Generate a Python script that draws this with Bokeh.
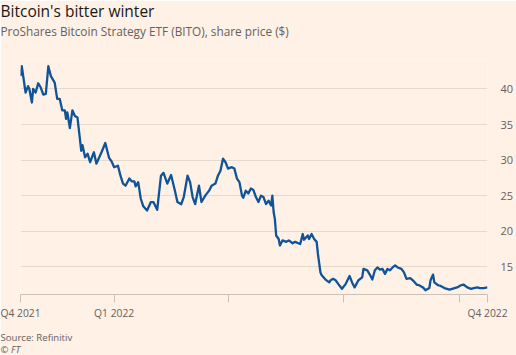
import pandas as pd
from bokeh.plotting import figure
from bokeh.models import FixedTicker, LinearAxis, Range1d, Title, ColumnDataSource
from bokeh.embed import file_html
from bokeh.resources import INLINE

# ---- data ----
launch_date = "2021-10-19"
days_since_launch = [0, 1, 4, 6, 7, 9, 10, 12, 14, 16, 18, 20, 22, 24, 27, 29, 31, 33, 35, 36,
                     37, 39, 41, 43, 45, 48, 49, 51, 53, 55, 58, 60, 64, 67, 70, 72, 74, 77, 79, 81,
                     83, 86, 88, 90, 91, 93, 95, 97, 100, 103, 105, 108, 111, 113, 116, 119, 122, 124, 127, 129,
                     132, 134, 136, 138, 141, 143, 146, 149, 151, 154, 156, 158, 160, 162, 164, 167, 169, 171, 173, 175,
                     176, 178, 180, 182, 184, 186, 188, 190, 192, 194, 196, 198, 199, 200, 201, 202, 204, 205, 207, 210,
                     212, 215, 217, 221, 223, 224, 227, 228, 230, 232, 234, 235, 237, 238, 241, 244, 245, 247, 249, 251,
                     254, 257, 260, 262, 264, 267, 270, 271, 274, 276, 278, 280, 282, 284, 286, 288, 290, 292, 294, 296,
                     298, 301, 303, 305, 308, 310, 313, 315, 318, 320, 323, 324, 326, 327, 330, 332, 335, 337, 339, 343,
                     345, 348, 350, 353, 356, 358, 361, 363, 366, 369]
share_price = [41.8, 43.2, 39.5, 40.4, 40.0, 38.1, 40.0, 39.5, 40.8, 40.2, 39.2, 39.3, 43.2, 41.8, 40.9, 38.6, 38.6, 37.0, 37.0, 35.8,
               36.7, 34.5, 37.0, 36.2, 36.0, 31.3, 32.1, 30.4, 30.9, 29.7, 31.1, 29.5, 31.1, 32.4, 30.3, 29.8, 29.0, 29.2, 27.8, 26.7,
               26.4, 27.4, 27.0, 27.0, 26.3, 26.9, 24.6, 23.5, 22.9, 24.1, 24.1, 23.0, 27.8, 28.2, 26.7, 27.9, 25.7, 24.1, 23.8, 24.8,
               27.8, 26.9, 24.8, 23.8, 26.4, 24.1, 25.0, 25.7, 26.4, 26.7, 27.8, 28.5, 30.2, 29.7, 28.8, 29.0, 28.8, 27.4, 26.9, 25.0,
               24.7, 25.7, 25.3, 26.0, 25.8, 24.8, 24.1, 25.0, 24.8, 23.8, 24.3, 23.6, 25.0, 22.7, 21.7, 19.4, 18.9, 18.0, 18.7, 18.5,
               18.7, 18.3, 18.5, 18.2, 19.6, 18.8, 19.4, 18.9, 19.6, 18.9, 18.5, 16.8, 14.2, 13.8, 13.2, 12.8, 13.1, 13.3, 13.1, 12.6,
               11.9, 12.6, 13.7, 12.8, 12.1, 13.1, 13.5, 14.7, 14.5, 13.9, 13.2, 14.5, 14.9, 14.6, 14.7, 14.0, 14.7, 14.5, 14.9, 15.2,
               14.9, 14.7, 14.2, 13.3, 13.4, 13.1, 12.5, 12.4, 12.1, 11.7, 12.0, 13.1, 13.9, 12.8, 12.4, 12.3, 12.0, 11.9, 11.8, 12.0,
               12.1, 12.4, 12.5, 12.1, 11.9, 12.0, 12.1, 12.0, 12.0, 12.1]
x_tick_dates = ["2021-10-19", "2022-01-01", "2022-04-01", "2022-07-01", "2022-10-01", "2022-10-23"]
x_tick_labels = ["Q4 2021", "Q1 2022", "", "", "", "Q4 2022"]
y_ticks = [15, 20, 25, 30, 35, 40]

title_text = "Bitcoin's bitter winter"
subtitle_text = "ProShares Bitcoin Strategy ETF (BITO), share price ($)"
source_text = "Source: Refinitiv"
credit_text = "\u00a9 FT"

BG = "#fff1e5"
LINE = "#0f5499"
TEXT = "#66605c"
GRID = "#e6d9ce"
AXIS = "#ccc1b7"
FONT = "Open Sans"

dates = pd.Timestamp(launch_date) + pd.to_timedelta(days_since_launch, unit="D")
src = ColumnDataSource(dict(date=dates, price=share_price))

tick_ms = [int(pd.Timestamp(d).value // 10**6) for d in x_tick_dates]
overrides = {t: lab for t, lab in zip(tick_ms, x_tick_labels)}

x0 = pd.Timestamp(x_tick_dates[0])
x1 = pd.Timestamp(x_tick_dates[-1])

p = figure(width=516, height=355, x_axis_type="datetime",
           x_range=Range1d(x0, x1), y_range=Range1d(11.1, 44.0),
           output_backend="svg", toolbar_location=None,
           min_border_left=20, min_border_right=24, min_border_top=60, min_border_bottom=61,
           background_fill_color=BG, border_fill_color=BG, outline_line_color=None,
           y_axis_location=None)

p.line("date", "price", source=src, line_color=LINE, line_width=2.3, line_join="round")

# x axis
xa = p.xaxis[0]
xa.ticker = FixedTicker(ticks=tick_ms)
xa.major_label_overrides = overrides
xa.axis_line_color = AXIS
xa.major_tick_line_color = AXIS
xa.major_tick_in = 0
xa.major_tick_out = 8
xa.minor_tick_line_color = None
xa.major_label_text_font = FONT
xa.major_label_text_font_size = "10.3px"
xa.major_label_text_color = TEXT
xa.major_label_standoff = 3

# y axis on right
ya = LinearAxis(ticker=FixedTicker(ticks=y_ticks))
ya.axis_line_color = None
ya.major_tick_line_color = None
ya.minor_tick_line_color = None
ya.major_label_text_font = FONT
ya.major_label_text_font_size = "11px"
ya.major_label_text_color = TEXT
ya.major_label_standoff = 7
p.add_layout(ya, "right")

p.xgrid.grid_line_color = None
p.ygrid.grid_line_color = GRID
p.ygrid.ticker = FixedTicker(ticks=y_ticks)
p.ygrid.grid_line_width = 1

def mk_title(txt, size, color, standoff, style="normal"):
    return Title(text=txt, text_font=FONT, text_font_size=size, text_color=color,
                 text_font_style=style, align="left", offset=-20, standoff=standoff)

# above: first added sits nearest the frame
p.add_layout(mk_title(" ", "5px", BG, 9.6), "above")
p.add_layout(mk_title(subtitle_text, "11.8px", TEXT, 6.6), "above")
p.add_layout(mk_title(title_text, "15.5px", "#1a1817", -8.5), "above")

# below: after the x axis
p.add_layout(mk_title(" ", "5px", BG, -1.6), "below")
p.add_layout(mk_title(source_text, "9.6px", TEXT, 0), "below")
p.add_layout(mk_title(credit_text, "9.6px", TEXT, -5.5, "italic"), "below")

open("out.html", "w").write(file_html(p, INLINE))
